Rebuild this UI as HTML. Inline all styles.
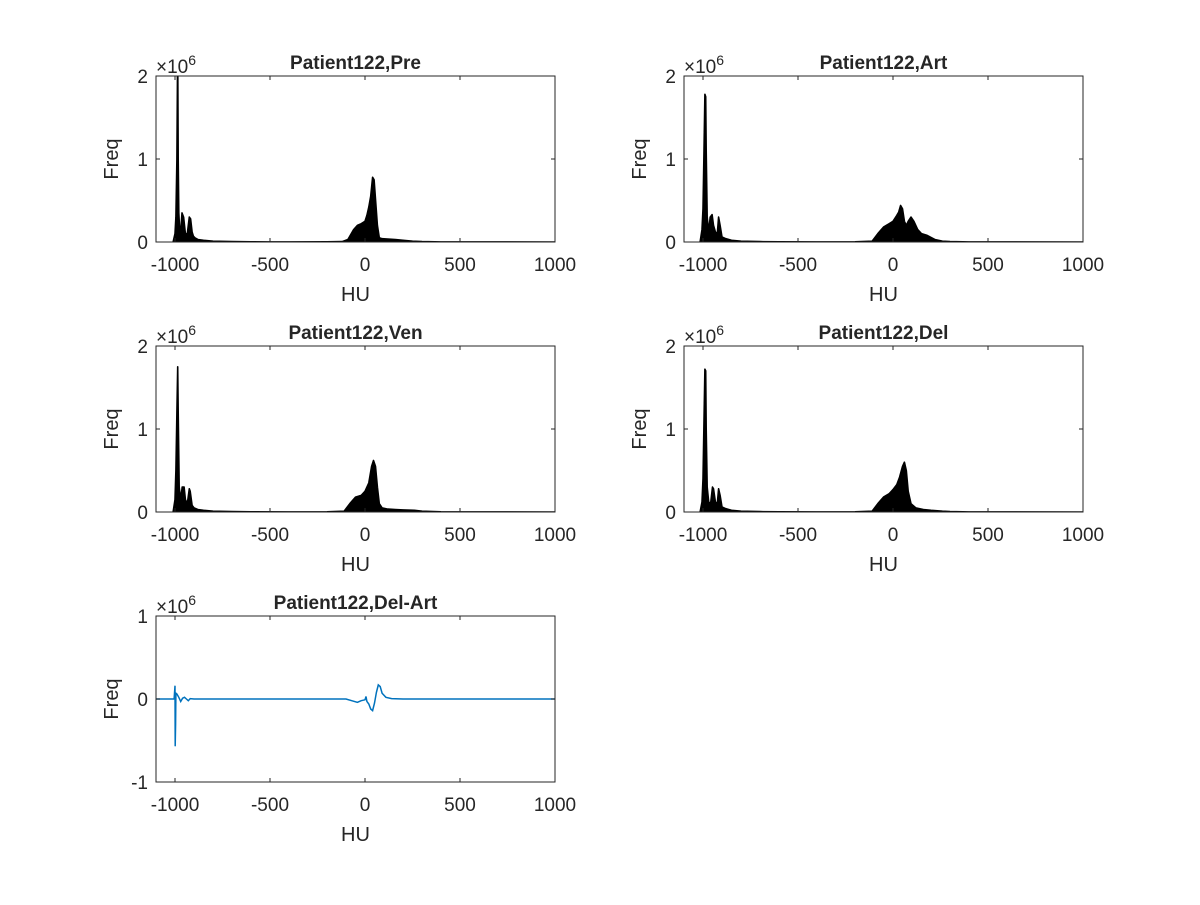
<!DOCTYPE html>
<html><head><meta charset="utf-8"><style>
body{margin:0;background:#fff;}
svg text{font-family:"Liberation Sans",Arial,sans-serif;fill:#262626;}
</style></head><body>
<svg id="fig" width="1200" height="900" xmlns="http://www.w3.org/2000/svg"></svg>
<script>
// HU sample positions and frequency values (x1e6) per panel
const preHU  = [-1010,-1000,-995,-990,-987,-985,-983,-980,-975,-970,-963,-955,-945,-935,-925,-918,-910,-903,-895,-880,-850,-800,-700,-600,-500,-400,-200,-120,-90,-60,-40,-20,0,10,20,30,40,48,56,65,75,90,120,160,200,250,300,400,1000];
const preF   = [0,0.1,0.3,1.0,2.05,2.05,1.0,0.35,0.12,0.12,0.35,0.3,0.1,0.1,0.3,0.28,0.12,0.07,0.05,0.03,0.02,0.01,0.005,0.002,0.001,0.001,0.002,0.005,0.03,0.15,0.2,0.22,0.25,0.32,0.42,0.55,0.78,0.75,0.5,0.2,0.05,0.04,0.035,0.03,0.02,0.01,0.005,0.001,0];
const artHU  = [-1015,-1005,-1000,-995,-990,-986,-983,-978,-970,-962,-952,-945,-935,-925,-918,-910,-900,-880,-850,-800,-700,-600,-400,-200,-110,-80,-50,-20,0,20,30,40,50,60,70,80,95,110,130,150,180,220,260,300,400,1000];
const artF   = [0,0.15,0.4,1.1,1.78,1.75,1.1,0.3,0.12,0.3,0.33,0.2,0.12,0.1,0.3,0.2,0.06,0.04,0.02,0.01,0.005,0.002,0.001,0.002,0.01,0.1,0.18,0.22,0.25,0.32,0.36,0.44,0.4,0.25,0.2,0.25,0.3,0.25,0.15,0.1,0.08,0.03,0.01,0.005,0.001,0];
const venHU  = [-1010,-1000,-995,-990,-986,-983,-978,-970,-962,-952,-945,-935,-925,-920,-910,-900,-880,-850,-800,-700,-600,-400,-200,-110,-80,-50,-20,0,20,35,45,55,65,75,90,120,160,200,260,300,400,1000];
const venF   = [0,0.15,0.5,1.2,1.75,1.2,0.3,0.15,0.3,0.3,0.15,0.1,0.28,0.25,0.08,0.05,0.03,0.02,0.01,0.005,0.002,0.001,0.002,0.01,0.1,0.18,0.2,0.25,0.35,0.55,0.62,0.55,0.3,0.1,0.05,0.035,0.03,0.025,0.02,0.01,0.002,0];
const delHU  = [-1015,-1005,-1000,-995,-990,-986,-983,-978,-970,-960,-950,-945,-935,-925,-918,-910,-900,-880,-850,-800,-700,-600,-400,-200,-110,-80,-50,-20,0,20,35,50,60,70,80,95,120,160,200,260,300,400,1000];
const delF   = [0,0.12,0.4,1.1,1.72,1.7,1.0,0.3,0.12,0.1,0.3,0.28,0.12,0.1,0.28,0.2,0.06,0.04,0.02,0.01,0.005,0.002,0.001,0.002,0.01,0.1,0.18,0.22,0.27,0.33,0.42,0.55,0.6,0.5,0.25,0.1,0.05,0.03,0.02,0.01,0.005,0.001,0];
const diffHU = [-1100,-1005,-1000,-999,-997,-995,-990,-980,-970,-960,-950,-940,-930,-920,-900,-600,-100,-70,-40,-20,0,5,10,20,30,40,50,60,70,80,90,110,140,200,1000];
const diffF  = [0,0,0.16,-0.57,-0.3,0.07,0.06,0.02,-0.03,0.01,0.02,0,-0.02,0.005,0,0,0,-0.02,-0.04,-0.02,-0.01,0.03,-0.03,-0.06,-0.12,-0.14,-0.05,0.08,0.17,0.15,0.07,0.02,0.005,0,0];
const xTicks = [-1000,-500,0,500,1000];
const xTickLabels = ['-1000','-500','0','500','1000'];

const svg = document.getElementById('fig');
const NS = 'http://www.w3.org/2000/svg';
function mk(tag, attrs, parent){const e=document.createElementNS(NS,tag);for(const k in attrs)e.setAttribute(k,attrs[k]);(parent||svg).appendChild(e);return e;}

function panel(key, title, L, T, hu, f, yTicks, yLabels, ymin, ymax, isLine){
  const W=399, H=166, B=T+H;
  const g = mk('g',{});
  
  
  const xs = v => L + (v + 1100) / 2100 * W;
  const ys = v => B - (v - ymin) / (ymax - ymin) * H;
  const cp = mk('clipPath',{id:'c'+key},g);
  mk('rect',{x:L,y:T,width:W,height:H},cp);
  let d='';
  hu.forEach((h,i)=>{ d += (i?'L':'M') + xs(h).toFixed(1) + ' ' + ys(f[i]).toFixed(1) + ' '; });
  if(!isLine){
    d = 'M'+xs(hu[0]).toFixed(1)+' '+ys(0).toFixed(1)+' L'+d.slice(1)+'L'+xs(hu[hu.length-1]).toFixed(1)+' '+ys(0).toFixed(1)+' Z';
    const p = mk('path',{d:d,fill:'#000',stroke:'#000','stroke-width':1.6,'stroke-linejoin':'round','clip-path':'url(#c'+key+')'},g);
    
    
  } else {
    const p = mk('path',{d:d,fill:'none',stroke:'#0072BD','stroke-width':1.5,'clip-path':'url(#c'+key+')'},g);
    
    
  }
  mk('rect',{x:L,y:T,width:W,height:H,fill:'none',stroke:'#262626','stroke-width':1},g);
  xTicks.forEach((t,i)=>{
    const x=xs(t);
    mk('line',{x1:x,x2:x,y1:B,y2:B-4,stroke:'#262626'},g);
    mk('line',{x1:x,x2:x,y1:T,y2:T+4,stroke:'#262626'},g);
    const tx=mk('text',{x:x,y:B+29,'font-size':19,'text-anchor':'middle'},g);
    tx.textContent=xTickLabels[i];
    
    
  });
  yTicks.forEach((t,i)=>{
    const y=ys(t);
    mk('line',{x1:L,x2:L+4,y1:y,y2:y,stroke:'#262626'},g);
    mk('line',{x1:L+W,x2:L+W-4,y1:y,y2:y,stroke:'#262626'},g);
    const tx=mk('text',{x:L-8,y:y+7,'font-size':19,'text-anchor':'end'},g);
    tx.textContent=yLabels[i];
    
    
  });
  const ex=mk('text',{x:L,y:T-3,'font-size':19},g);
  ex.innerHTML='×10<tspan font-size="14" dy="-8">6</tspan>';
  
  
  const ti=mk('text',{x:L+W/2,y:T-7,'font-size':19,'font-weight':'bold','text-anchor':'middle',fill:'#000'},g);
  ti.textContent=title;
  
  
  const xl=mk('text',{x:L+W/2,y:B+59,'font-size':20,'text-anchor':'middle'},g);
  xl.textContent='HU';
  
  
  const yl=mk('text',{x:0,y:0,'font-size':20,'text-anchor':'middle',transform:'translate('+(L-38)+','+(T+H/2)+') rotate(-90)'},g);
  yl.textContent='Freq';
  
  
}
const hT=[0,1,2], hL=['0','1','2'];
panel('pre','Patient122,Pre',156,76,preHU,preF,hT,hL,0,2,false);
panel('art','Patient122,Art',684,76,artHU,artF,hT,hL,0,2,false);
panel('ven','Patient122,Ven',156,346,venHU,venF,hT,hL,0,2,false);
panel('del','Patient122,Del',684,346,delHU,delF,hT,hL,0,2,false);
panel('diff','Patient122,Del-Art',156,616,diffHU,diffF,[-1,0,1],['-1','0','1'],-1,1,true);
</script>
</body></html>
